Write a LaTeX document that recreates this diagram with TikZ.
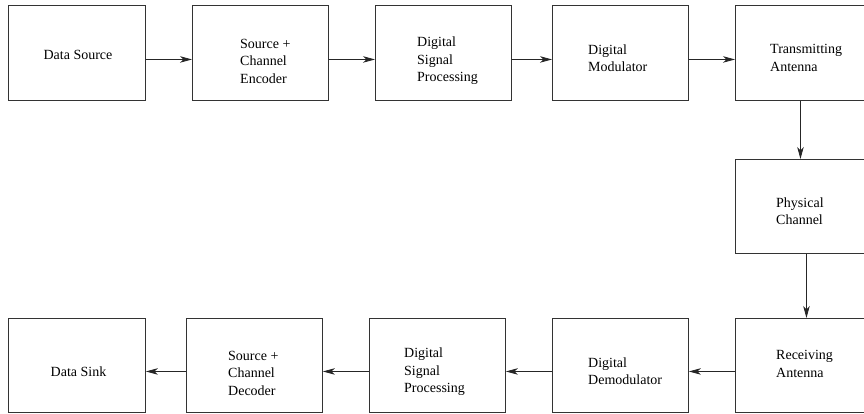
\documentclass[tikz,border=0pt]{standalone}
\usepackage{fontspec}
\setmainfont{Liberation Serif}
\usetikzlibrary{arrows.meta}
\begin{document}
\begin{tikzpicture}[x=1pt,y=-1pt,
  blk/.style={draw=black!80, line width=0.9pt, anchor=north west, inner sep=0pt},
  lbl/.style={align=left, anchor=west, inner sep=0pt, font=\fontsize{14}{17.5}\selectfont},
  lblc/.style={align=center, inner sep=0pt, font=\fontsize{14}{17.5}\selectfont},
  arr/.style={draw=black!85, line width=0.8pt, -{Stealth[length=12pt,width=6.5pt,inset=3.5pt]}}]
\clip (0,0) rectangle (864,413);
\fill[white] (0,0) rectangle (864,413);
% top row
\node[blk, minimum width=137pt, minimum height=95pt] (b1) at (8,5) {};
\node[blk, minimum width=136pt, minimum height=95pt] (b2) at (192,5) {};
\node[blk, minimum width=136pt, minimum height=95pt] (b3) at (375,5) {};
\node[blk, minimum width=136pt, minimum height=95pt] (b4) at (552,5) {};
\node[blk, minimum width=136pt, minimum height=95pt] (b5) at (735,5) {};
% middle
\node[blk, minimum width=136pt, minimum height=94pt] (ph) at (735,159) {};
% bottom row
\node[blk, minimum width=137pt, minimum height=94pt] (s1) at (8,318) {};
\node[blk, minimum width=136pt, minimum height=94pt] (s2) at (186,318) {};
\node[blk, minimum width=136pt, minimum height=94pt] (s3) at (369,318) {};
\node[blk, minimum width=136pt, minimum height=94pt] (s4) at (552,318) {};
\node[blk, minimum width=136pt, minimum height=94pt] (s5) at (735,318) {};
% labels
\node[lblc] (t1) at (78,55) {Data Source};
\node[lbl] (t2) at (240,61) {Source +\\Channel\\Encoder};
\node[lbl] (t3) at (417,61) {Digital\\Signal\\Processing};
\node[lbl] (t4) at (588,58) {Digital\\Modulator};
\node[lbl] (t5) at (770,58) {Transmitting\\Antenna};
\node[lbl] (tp) at (776,211) {Physical\\Channel};
\node[lbl] (u5) at (776,364) {Receiving\\Antenna};
\node[lbl] (u4) at (588,371) {Digital\\Demodulator};
\node[lbl] (u3) at (404,372) {Digital\\Signal\\Processing};
\node[lbl] (u2) at (228,373) {Source +\\Channel\\Decoder};
\node[lblc] (u1) at (78.5,372) {Data Sink};
% connectors
\draw[arr] ([yshift=-6.5pt]b1.east) -- ([yshift=-6.5pt]b2.west);
\draw[arr] ([yshift=-6.5pt]b2.east) -- ([yshift=-6.5pt]b3.west);
\draw[arr] ([yshift=-6.5pt]b3.east) -- ([yshift=-6.5pt]b4.west);
\draw[arr] ([yshift=-6.5pt]b4.east) -- ([yshift=-6.5pt]b5.west);
\draw[arr] ([xshift=-3pt]b5.south) -- ([xshift=-3pt]ph.north);
\draw[arr] ([xshift=3pt]ph.south) -- ([xshift=3pt]s5.north);
\draw[arr] ([yshift=-6pt]s5.west) -- ([yshift=-6pt]s4.east);
\draw[arr] ([yshift=-6pt]s4.west) -- ([yshift=-6pt]s3.east);
\draw[arr] ([yshift=-6pt]s3.west) -- ([yshift=-6pt]s2.east);
\draw[arr] ([yshift=-6pt]s2.west) -- ([yshift=-6pt]s1.east);
\end{tikzpicture}
\end{document}
